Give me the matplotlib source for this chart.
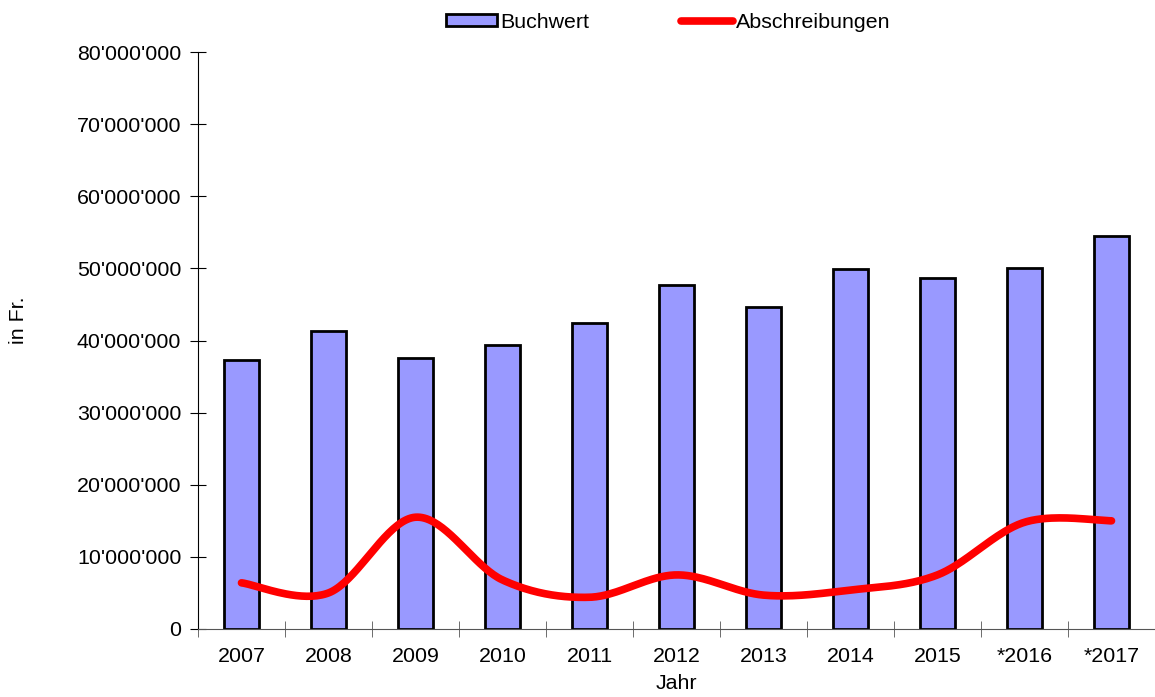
import numpy as np
import matplotlib
matplotlib.use("Agg")
import matplotlib.pyplot as plt
from matplotlib.ticker import FuncFormatter, MultipleLocator
from matplotlib.lines import Line2D
from matplotlib.patches import Patch

plt.rcParams['font.family'] = ['Liberation Sans', 'DejaVu Sans']

years = ['2007', '2008', '2009', '2010', '2011', '2012', '2013', '2014', '2015', '*2016', '*2017']
buchwert = [37.3e6, 41.3e6, 37.6e6, 39.4e6, 42.4e6, 47.7e6, 44.7e6, 49.9e6, 48.7e6, 50.1e6, 54.5e6]
abschreibungen = [6.4e6, 5.0e6, 15.5e6, 6.8e6, 4.4e6, 7.5e6, 4.7e6, 5.4e6, 7.5e6, 14.8e6, 15.0e6]

FS = 15.4


def smooth(xs, ys, n=40):
    # Excel-style smoothed line: cubic bezier with 1/6 tangents
    xs = np.asarray(xs, float)
    ys = np.asarray(ys, float)
    px = np.concatenate([[xs[0]], xs, [xs[-1]]])
    py = np.concatenate([[ys[0]], ys, [ys[-1]]])
    out_x, out_y = [], []
    t = np.linspace(0, 1, n)
    for i in range(1, len(px) - 2):
        p0 = np.array([px[i], py[i]])
        p3 = np.array([px[i + 1], py[i + 1]])
        p1 = p0 + (np.array([px[i + 1], py[i + 1]]) - np.array([px[i - 1], py[i - 1]])) / 6
        p2 = p3 - (np.array([px[i + 2], py[i + 2]]) - np.array([px[i], py[i]])) / 6
        b = ((1 - t) ** 3)[:, None] * p0 + (3 * (1 - t) ** 2 * t)[:, None] * p1 \
            + (3 * (1 - t) * t ** 2)[:, None] * p2 + (t ** 3)[:, None] * p3
        out_x.extend(b[:, 0])
        out_y.extend(b[:, 1])
    return out_x, out_y


fig = plt.figure(figsize=(11.55, 6.97), dpi=100)
ax = fig.add_axes([198 / 1155, 68 / 697, 1 - 198 / 1155, (629 - 52) / 697])

x = np.arange(len(years))
ax.bar(x, buchwert, width=0.4, color='#9999ff', edgecolor='black', linewidth=2, zorder=2)
sx, sy = smooth(x, abschreibungen)
ax.plot(sx, sy, color='#ff0000', linewidth=5.5, solid_capstyle='round', zorder=3)

ax.set_xlim(-0.5, len(years) - 0.5)
ax.set_ylim(0, 80e6)
ax.yaxis.set_major_locator(MultipleLocator(10e6))
ax.yaxis.set_major_formatter(FuncFormatter(lambda v, p: f"{int(round(v)):,}".replace(',', "'")))

ax.set_xticks(x)
ax.set_xticklabels(years)
ax.set_xticks(np.arange(-0.5, len(years), 1.0), minor=True)
ax.tick_params(axis='x', which='major', length=0, pad=13, labelsize=FS)
ax.tick_params(axis='x', which='minor', direction='inout', length=12, color='#555555')
ax.tick_params(axis='y', direction='inout', length=12, labelsize=FS, pad=6)

for s in ['top', 'right']:
    ax.spines[s].set_visible(False)
ax.spines['bottom'].set_color('#555555')
ax.spines['left'].set_color('black')

ax.set_xlabel('Jahr', fontsize=FS, labelpad=6)
fig.text(18 / 1155, 1 - 320 / 697, 'in Fr.', rotation=90, fontsize=FS, ha='center', va='center')

handles = [Patch(facecolor='#9999ff', edgecolor='black', linewidth=2),
           Line2D([], [], color='#ff0000', linewidth=5.5, solid_capstyle='round')]
fig.legend(handles, ['Buchwert', 'Abschreibungen'], loc='center', bbox_to_anchor=(668 / 1155, 1 - 22 / 697),
           ncol=2, frameon=False, fontsize=FS, handlelength=2.4, handleheight=0.5,
           handletextpad=0.15, columnspacing=4.3)

fig.savefig('out.png', dpi=100)
